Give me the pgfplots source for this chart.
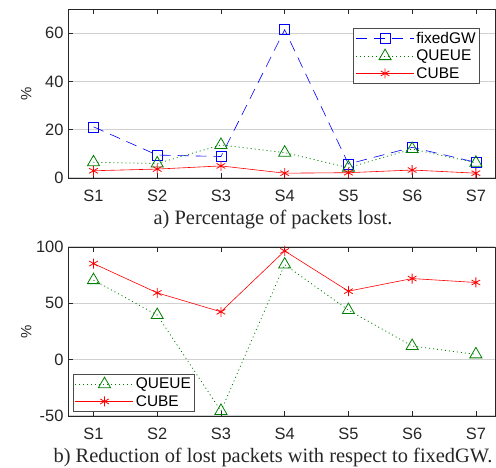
\documentclass[border=0pt]{standalone}
\usepackage{pgfplots}
\pgfplotsset{compat=1.18}
\usepackage{fontspec}
\setmainfont{Liberation Serif}
\newfontfamily\arialf{Liberation Sans}
\definecolor{mgreen}{RGB}{0,128,0}
\begin{document}
\begin{tikzpicture}
\path[use as bounding box] (0,0) rectangle (496bp,-468bp);
\pgfplotsset{
 common/.style={
  scale only axis, width=427bp, height=169bp,
  anchor=south west,
  xmin=0.6, xmax=7.3,
  xtick={1,2,3,4,5,6,7}, xticklabels={S1,S2,S3,S4,S5,S6,S7},
  tick align=inside, major tick length=5bp,
  ytick pos=left,
  ymajorgrids, grid style={black!18, line width=1.2bp},
  axis line style={black!85, line width=0.8bp},
  tick style={black!85, line width=0.6bp},
  ticklabel style={font=\arialf\fontsize{16.5}{16.5}\selectfont, text=black!85},
  xticklabel style={yshift=-8bp},
  yticklabel style={xshift=-1bp},
  ylabel={\%},
  every axis y label/.style={at={(axis description cs:-0.098,0.5)}, rotate=90, anchor=center, font=\arialf\fontsize{15}{15}\selectfont, text=black!85},
  legend style={font=\arialf\fontsize{15.5}{18}\selectfont, draw=black!70, line width=0.8bp, inner sep=2bp, row sep=1bp},
  legend cell align=left,
  every axis legend/.append style={/tikz/every even column/.append style={column sep=2bp}},
  every axis plot/.append style={legend image code/.code={
   \draw[mark=none] (0bp,0bp) -- (58bp,0bp);
   \draw plot[only marks] coordinates {(29bp,0bp)};
  }},
 },
}
\begin{axis}[common, at={(68bp,-178bp)}, ymin=0, ymax=70, ytick={0,20,40,60}, yticklabels={0,20,40,60},
  legend style={at={(rel axis cs:0.965,0.888)}, anchor=north east}]
\addplot[blue, line width=0.6bp, dash pattern=on 11bp off 7bp, mark=square, mark size=5bp, mark options={solid}]
 coordinates {(1,21.2) (2,9.5) (3,8.9) (4,61.4) (5,5.8) (6,12.7) (7,6.5)};
\addplot[mgreen, line width=0.8bp, dash pattern=on 1bp off 3bp, mark=triangle, mark size=7bp, mark options={solid, line width=0.8bp}]
 coordinates {(1,6.5) (2,6.0) (3,13.7) (4,10.5) (5,4.3) (6,12.0) (7,6.3)};
\addplot[red, line width=0.6bp, mark=asterisk, mark size=5bp, mark options={solid, line width=0.8bp}]
 coordinates {(1,3.0) (2,3.7) (3,5.0) (4,2.0) (5,2.2) (6,3.3) (7,2.0)};
\legend{fixedGW, QUEUE, CUBE}
\end{axis}
\node[font=\fontsize{20.5}{20.5}\selectfont, text=black!85] at (273bp,-220bp) {a) Percentage of packets lost.};
\begin{axis}[common, at={(68bp,-416bp)}, ymin=-50, ymax=100, ytick={-50,0,50,100}, yticklabels={-50,0,50,100},
  legend style={at={(rel axis cs:0.011,0.024)}, anchor=south west}]
\addplot[mgreen, line width=0.8bp, dash pattern=on 1bp off 3bp, mark=triangle, mark size=7bp, mark options={solid, line width=0.8bp}]
 coordinates {(1,70.6) (2,39.6) (3,-45.5) (4,84.4) (5,44.0) (6,12.1) (7,4.7)};
\addplot[red, line width=0.6bp, mark=asterisk, mark size=5bp, mark options={solid, line width=0.8bp}]
 coordinates {(1,85.3) (2,59.3) (3,42.5) (4,96.5) (5,60.8) (6,72.0) (7,68.5)};
\legend{QUEUE, CUBE}
\end{axis}
\node[font=\fontsize{20.5}{20.5}\selectfont, text=black!85] at (273bp,-457bp) {b) Reduction of lost packets with respect to fixedGW.};
\end{tikzpicture}
\end{document}
